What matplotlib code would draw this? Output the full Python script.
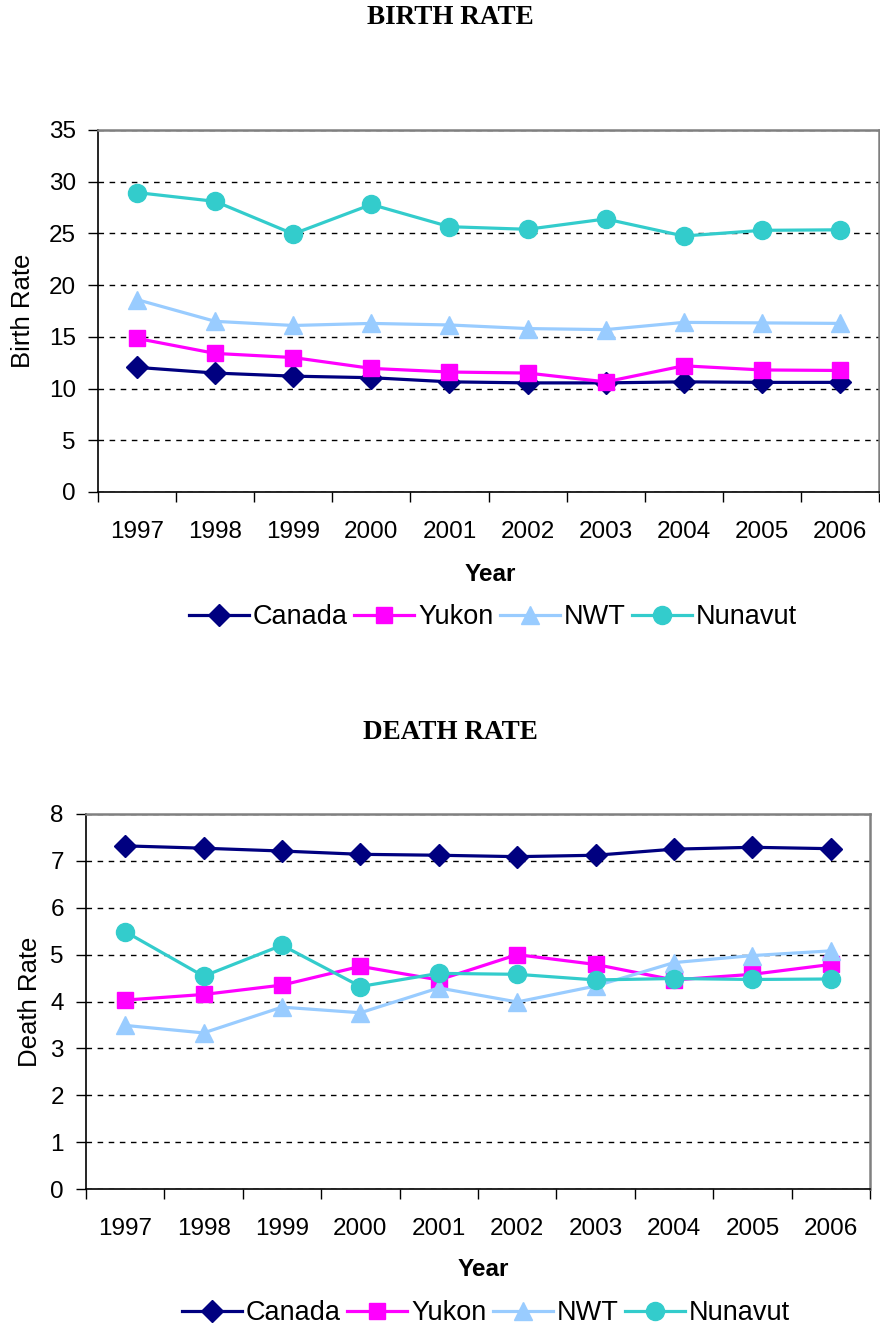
import numpy as np
import matplotlib
matplotlib.use('Agg')
import matplotlib.pyplot as plt

years = ['1997', '1998', '1999', '2000', '2001', '2002', '2003', '2004', '2005', '2006']

# birth rate per 1000
birth_canada = [12.05, 11.5, 11.2, 11.05, 10.65, 10.55, 10.55, 10.65, 10.6, 10.6]
birth_yukon = [14.85, 13.4, 13.0, 11.95, 11.6, 11.5, 10.65, 12.2, 11.8, 11.75]
birth_nwt = [18.6, 16.5, 16.1, 16.3, 16.15, 15.8, 15.7, 16.4, 16.35, 16.3]
birth_nunavut = [28.95, 28.1, 24.95, 27.8, 25.65, 25.4, 26.4, 24.75, 25.3, 25.35]

# death rate per 1000
death_canada = [7.32, 7.27, 7.21, 7.14, 7.12, 7.09, 7.12, 7.25, 7.29, 7.26]
death_yukon = [4.03, 4.15, 4.35, 4.75, 4.46, 5.0, 4.79, 4.46, 4.58, 4.79]
death_nwt = [3.49, 3.33, 3.88, 3.76, 4.29, 3.99, 4.33, 4.83, 4.98, 5.08]
death_nunavut = [5.49, 4.54, 5.2, 4.32, 4.6, 4.58, 4.46, 4.49, 4.47, 4.48]

series_names = ['Canada', 'Yukon', 'NWT', 'Nunavut']
colors = ['#000080', '#FF00FF', '#99CCFF', '#33CCCC']
markers = ['D', 's', '^', 'o']
msizes = [11, 12, 13, 13]

plt.rcParams['font.family'] = ['Liberation Sans', 'DejaVu Sans']
FS = 17.5
LFS = 19.5
W, H = 880, 1330


def px(x, y):
    return x / W, 1 - y / H


def draw_chart(ax, data, ymax, ystep):
    x = np.arange(len(years))
    for vals, name, c, m, ms in zip(data, series_names, colors, markers, msizes):
        ax.plot(x, vals, color=c, marker=m, markersize=ms, lw=2.3,
                label=name, markeredgecolor=c, zorder=3)
    ax.set_xlim(-0.5, len(years) - 0.5)
    ax.set_ylim(0, ymax)
    ax.set_yticks(np.arange(0, ymax + ystep / 2, ystep))
    ax.set_xticks(x)
    ax.set_xticklabels(years)
    ax.set_xticks(np.arange(-0.5, len(years), 1), minor=True)
    ax.tick_params(axis='x', which='major', length=0, pad=21, labelsize=FS)
    ax.tick_params(axis='x', which='minor', length=7, width=1, direction='out')
    ax.tick_params(axis='y', length=7, width=1, direction='out', pad=9, labelsize=FS)
    ax.yaxis.grid(True, color='black', linestyle=(0, (4, 4)), lw=1)
    ax.set_axisbelow(True)
    for s in ['top', 'right']:
        ax.spines[s].set_color('#808080')
        ax.spines[s].set_linewidth(1.8)
    for s in ['left', 'bottom']:
        ax.spines[s].set_color('black')
        ax.spines[s].set_linewidth(1.2)


fig = plt.figure(figsize=(8.8, 13.3), dpi=100)

# top chart
ax1 = fig.add_axes([98 / W, 1 - 492 / H, 781 / W, 362 / H])
draw_chart(ax1, [birth_canada, birth_yukon, birth_nwt, birth_nunavut], 35, 5)
fig.text(*px(450, 18), 'BIRTH RATE', ha='center', va='center', fontsize=19.5,
         fontweight='bold', family='Liberation Serif')
fig.text(*px(23, 311), 'Birth Rate', ha='center', va='center', rotation=90, fontsize=18.5)
fig.text(*px(490, 575), 'Year', ha='center', va='center', fontsize=FS, fontweight='bold')
ax1.legend(loc='center', bbox_to_anchor=((493 - 98) / 781, (492 - 617) / 362), ncol=4,
           frameon=False, fontsize=LFS, handlelength=2.2, handletextpad=0.15,
           columnspacing=0.25, borderpad=0)

# bottom chart
ax2 = fig.add_axes([86 / W, 1 - 1189 / H, 784 / W, 375 / H])
draw_chart(ax2, [death_canada, death_yukon, death_nwt, death_nunavut], 8, 1)
fig.text(*px(450, 733), 'DEATH RATE', ha='center', va='center', fontsize=19.5,
         fontweight='bold', family='Liberation Serif')
fig.text(*px(30, 1002), 'Death Rate', ha='center', va='center', rotation=90, fontsize=18.5)
fig.text(*px(483, 1270), 'Year', ha='center', va='center', fontsize=FS, fontweight='bold')
ax2.legend(loc='center', bbox_to_anchor=((486 - 86) / 784, (1189 - 1313) / 375), ncol=4,
           frameon=False, fontsize=LFS, handlelength=2.2, handletextpad=0.15,
           columnspacing=0.25, borderpad=0)

fig.savefig('out.png', dpi=100)
